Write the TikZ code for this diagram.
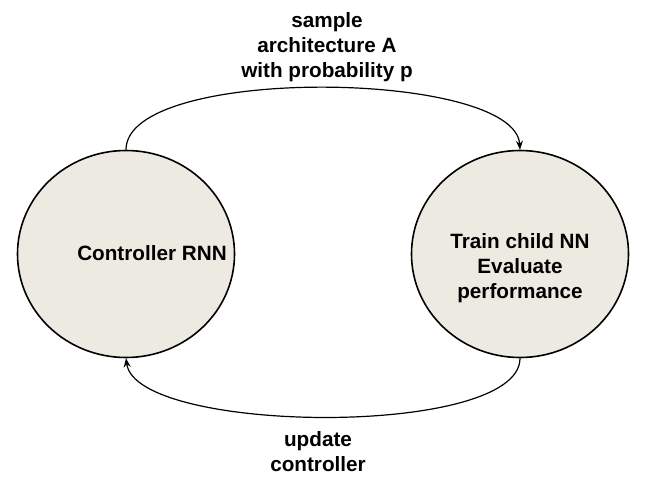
\documentclass[tikz,border=0pt]{standalone}
\usepackage{fontspec}
\setmainfont{Liberation Sans}
\usetikzlibrary{arrows.meta,shapes.geometric,positioning}
\definecolor{stagefill}{RGB}{237,235,225}
\tikzset{
    stage/.style={
        draw, ellipse, line width=1.6pt, fill=stagefill,
        minimum width=217pt, minimum height=207pt,
        inner sep=0pt
    }
}

\begin{document}
\begin{tikzpicture}[
        x=1pt, y=-1pt,
        caption/.style={
            align=center, font=\bfseries\fontsize{20.7}{25}\selectfont,
            text=black, inner sep=0pt
        },
        loop/.style={
            line width=1.2pt,
            -{Stealth[length=9pt,width=7pt,inset=3pt]}
        }
      ]

  \useasboundingbox (0,0) rectangle (658,478);

  \node[stage] (ctrl)  at (126,254) {};
  \node[stage] (child) at (520,254) {};

  \node[caption] (ctrltxt)  at (152,253) {Controller RNN};
  \node[caption] (childtxt) at (520,268) {Train child NN\\Evaluate\\performance};

  \node[caption] (sample) at (327,47) {sample\\architecture A\\with probability p};
  \node[caption] (update) at (318,452) {update\\controller};

  \draw[loop] (ctrl.north) .. controls +(0,-85) and +(-5,-80) .. (child.north);
  \draw[loop] (child.south) .. controls +(0,80) and +(10,76) .. (ctrl.south);

\end{tikzpicture}
\end{document}
